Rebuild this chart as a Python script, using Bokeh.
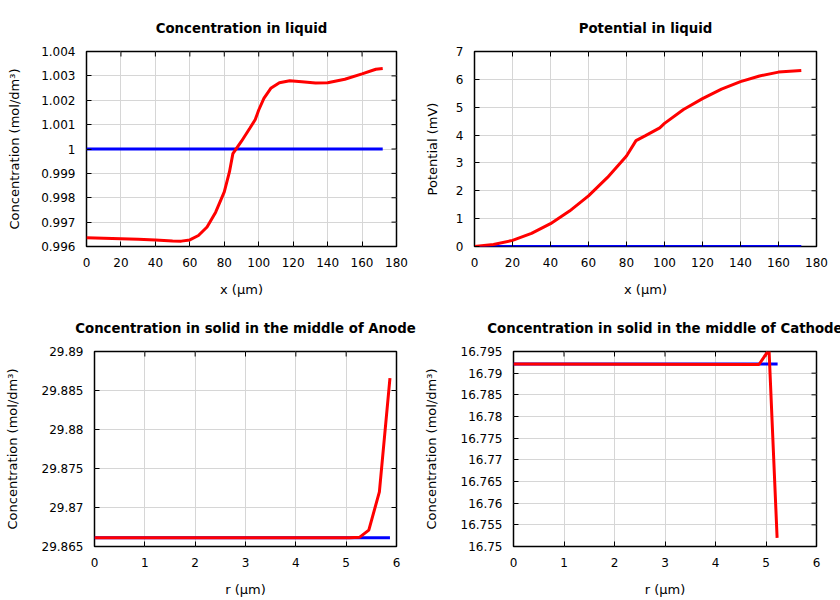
import math
from bokeh.plotting import figure
from bokeh.models import Range1d, FixedTicker
from bokeh.layouts import column, row
from bokeh.embed import file_html
from bokeh.resources import INLINE

# ---------------- data ----------------
# Panel 1: concentration in liquid
liq_x = [0, 10, 20, 30, 40, 50, 55, 60, 65, 70, 75, 80, 83, 85, 90, 95, 98,
         100, 103, 107, 112, 118, 125, 133, 140, 150, 160, 168, 172]
liq_c = [0.99636, 0.99634, 0.99632, 0.99630, 0.99627, 0.99623, 0.99622, 0.99627,
         0.99645, 0.99680, 0.99741, 0.99824, 0.99906, 0.99981, 1.00032, 1.00087,
         1.00121, 1.00160, 1.00208, 1.00249, 1.00272, 1.00280, 1.00276, 1.00271,
         1.00272, 1.00286, 1.00308, 1.00327, 1.00330]
liq_c_init_x = [0, 172]
liq_c_init = [1.0, 1.0]

# Panel 2: potential in liquid
pot_x = [0, 10, 20, 30, 40, 50, 60, 70, 80, 85, 90, 97.5, 100, 110, 120, 130,
         140, 150, 160, 172]
pot_v = [0.0, 0.07, 0.22, 0.47, 0.82, 1.27, 1.82, 2.48, 3.25, 3.80, 3.98, 4.26,
         4.42, 4.92, 5.31, 5.65, 5.92, 6.12, 6.26, 6.32]
pot_init_x = [0, 172]
pot_init = [0.0, 0.0]

# Panel 3: concentration in solid, anode
an_r = [0, 5.06, 5.27, 5.45, 5.66, 5.87]
an_c = [29.86611, 29.86611, 29.8662, 29.8671, 29.8720, 29.8866]
an_init_r = [0, 5.87]
an_init = [29.86611, 29.86611]

# Panel 4: concentration in solid, cathode
ca_r = [0, 4.86, 5.06, 5.22]
ca_c = [16.7921, 16.7920, 16.7954, 16.7520]
ca_init_r = [0, 5.23]
ca_init = [16.7921, 16.7921]

# ticks
x_ticks_liq = [0, 20, 40, 60, 80, 100, 120, 140, 160, 180]
x_labels_liq = ["0", "20", "40", "60", "80", "100", "120", "140", "160", "180"]
x_ticks_r = [0, 1, 2, 3, 4, 5, 6]
x_labels_r = ["0", "1", "2", "3", "4", "5", "6"]
y_ticks_liq = [0.996, 0.997, 0.998, 0.999, 1.0, 1.001, 1.002, 1.003, 1.004]
y_labels_liq = ["0.996", "0.997", "0.998", "0.999", "1", "1.001", "1.002", "1.003", "1.004"]
y_ticks_pot = [0, 1, 2, 3, 4, 5, 6, 7]
y_labels_pot = ["0", "1", "2", "3", "4", "5", "6", "7"]
y_ticks_an = [29.865, 29.87, 29.875, 29.88, 29.885, 29.89]
y_labels_an = ["29.865", "29.87", "29.875", "29.88", "29.885", "29.89"]
y_ticks_ca = [16.75, 16.755, 16.76, 16.765, 16.77, 16.775, 16.78, 16.785, 16.79, 16.795]
y_labels_ca = ["16.75", "16.755", "16.76", "16.765", "16.77", "16.775", "16.78",
               "16.785", "16.79", "16.795"]

FONT = "DejaVu Sans"
RED = "#ff0000"
BLUE = "#0000ff"


def style_axis(ax, ticks, labels, standoff):
    ax.ticker = FixedTicker(ticks=ticks)
    ax.major_label_overrides = dict(zip(ticks, labels))
    ax.axis_line_color = None
    ax.major_tick_in = 5
    ax.major_tick_out = 0
    ax.major_tick_line_color = "black"
    ax.major_tick_line_width = 1
    ax.minor_tick_line_color = None
    ax.major_label_text_font = FONT
    ax.major_label_text_color = "black"
    ax.major_label_text_font_size = "12px"
    ax.major_label_standoff = standoff
    ax.axis_label_text_font = FONT
    ax.axis_label_text_font_size = "13px"
    ax.axis_label_text_font_style = "normal"
    ax.axis_label_text_color = "black"


def make_fig(title, xlabel, ylabel, xr, yr, xt, xl, yt, yl, fw, fh,
             bl, br, bt, bb, ylab_standoff):
    p = figure(frame_width=fw, frame_height=fh, output_backend="svg",
               toolbar_location=None, x_range=Range1d(*xr), y_range=Range1d(*yr),
               min_border_left=bl, min_border_right=br, min_border_top=bt,
               min_border_bottom=bb)
    p.title.text = title
    p.title.align = "center"
    p.title.text_font = FONT
    p.title.text_font_size = "13.3px"
    p.title.text_font_style = "bold"
    p.title.text_color = "black"
    p.title.standoff = 32
    p.outline_line_color = "black"
    p.outline_line_width = 1.5
    p.background_fill_color = "white"
    p.border_fill_color = "white"

    style_axis(p.xaxis[0], xt, xl, 11)
    style_axis(p.yaxis[0], yt, yl, 11)
    p.xaxis[0].axis_label = xlabel
    p.yaxis[0].axis_label = ylabel
    p.xaxis[0].axis_label_standoff = 12
    p.yaxis[0].axis_label_standoff = ylab_standoff

    # mirrored inward ticks on the top and right frame edges
    p.scatter(xt, [yr[1]] * len(xt), marker="dash", angle=math.pi / 2, size=10,
              line_color="black", line_width=1)
    p.scatter([xr[1]] * len(yt), yt, marker="dash", size=10,
              line_color="black", line_width=1)

    p.xgrid.ticker = FixedTicker(ticks=xt)
    p.ygrid.ticker = FixedTicker(ticks=yt)
    for g in (p.xgrid, p.ygrid):
        g.grid_line_color = "#d6d6d6"
        g.grid_line_width = 1
    return p


CONC_LABEL = "Concentration (mol/dm\u00b3)"

p1 = make_fig("Concentration in liquid", "x (\u03bcm)", CONC_LABEL,
              (0, 180), (0.996, 1.004), x_ticks_liq, x_labels_liq,
              y_ticks_liq, y_labels_liq, 310, 195, 86, 20, 51, 55, 16)
p1.line(liq_c_init_x, liq_c_init, line_color=BLUE, line_width=3)
p1.line(liq_x, liq_c, line_color=RED, line_width=3)

p2 = make_fig("Potential in liquid", "x (\u03bcm)", "Potential (mV)",
              (0, 180), (0, 7), x_ticks_liq, x_labels_liq,
              y_ticks_pot, y_labels_pot, 342, 195, 58, 24, 51, 55, 13)
p2.line(pot_init_x, pot_init, line_color=BLUE, line_width=3)
p2.line(pot_x, pot_v, line_color=RED, line_width=3)

p3 = make_fig("Concentration in solid in the middle of Anode", "r (\u03bcm)", CONC_LABEL,
              (0, 6), (29.865, 29.89), x_ticks_r, x_labels_r,
              y_ticks_an, y_labels_an, 302, 195, 94, 24, 50, 54, 19)
p3.line(an_init_r, an_init, line_color=BLUE, line_width=3)
p3.line(an_r, an_c, line_color=RED, line_width=3)

p4 = make_fig("Concentration in solid in the middle of Cathode", "r (\u03bcm)", CONC_LABEL,
              (0, 6), (16.75, 16.795), x_ticks_r, x_labels_r,
              y_ticks_ca, y_labels_ca, 303, 195, 93, 24, 50, 54, 19)
p4.line(ca_init_r, ca_init, line_color=BLUE, line_width=3)
p4.line(ca_r, ca_c, line_color=RED, line_width=3)

layout = column(row(p1, p2), row(p3, p4))

open("out.html", "w").write(file_html(layout, INLINE))
